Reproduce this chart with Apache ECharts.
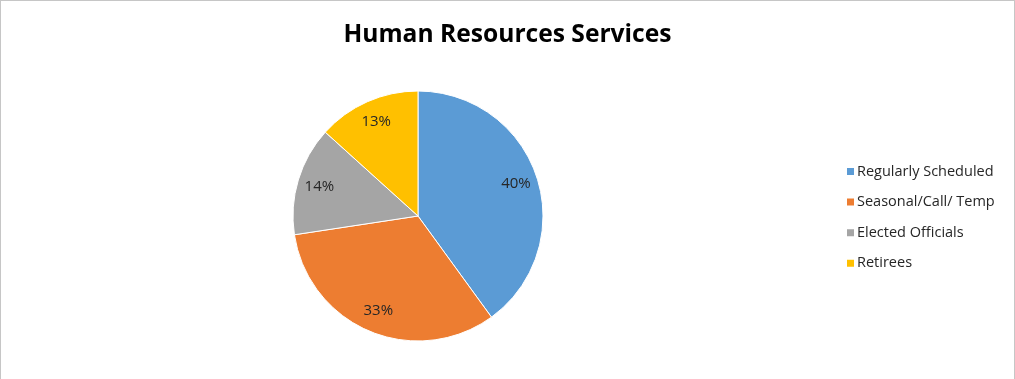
<!DOCTYPE html>
<html>
<head>
<meta charset="utf-8">
<script src="https://cdn.jsdelivr.net/npm/echarts@6/dist/echarts.min.js"></script>
<style>
  html, body { margin: 0; padding: 0; background: #fff; }
  #frame { position: absolute; left: 0; top: 0; width: 1015px; height: 400px;
           border: 1px solid #c6c6c6; box-sizing: border-box; }
  #chart { position: absolute; left: 0; top: 0; width: 1015px; height: 379px; }
</style>
</head>
<body>
<div id="frame"></div>
<div id="chart"></div>
<script>
// Staff categories and their shares of the workforce (%)
const categories = ['Regularly Scheduled', 'Seasonal/Call/ Temp', 'Elected Officials', 'Retirees'];
const shares = [40.0, 32.6, 14.1, 13.3];
const colors = ['#5B9BD5', '#ED7D31', '#A5A5A5', '#FFC000'];

const FONT = '"Open Sans", Lato, sans-serif';
const center = [418, 216];
const data = categories.map((name, i) => ({ name, value: shares[i] }));

const chart = echarts.init(document.getElementById('chart'), null, { renderer: 'canvas' });
chart.setOption({
  animation: false,
  color: colors,
  title: {
    text: 'Human Resources Services',
    left: 'center',
    top: 17,
    textStyle: { fontFamily: FONT, fontWeight: 'bold', fontSize: 24.6, color: '#000' }
  },
  legend: {
    data: categories,
    orient: 'vertical',
    left: 845,
    top: 163,
    padding: 0,
    icon: 'rect',
    itemWidth: 9,
    itemHeight: 9,
    itemGap: 13.6,
    textStyle: { fontFamily: FONT, fontSize: 14.5, color: '#262626', lineHeight: 17, padding: [0, 0, 0, -3] }
  },
  series: [
    {
      // coloured slices
      type: 'pie',
      center,
      radius: 125,
      startAngle: 90,
      clockwise: true,
      silent: true,
      label: { show: false },
      labelLine: { show: false },
      itemStyle: { borderColor: '#fff', borderWidth: 1 },
      data
    },
    {
      // transparent ring that carries the percentage labels near the rim
      type: 'pie',
      center,
      radius: [75, 125],
      startAngle: 90,
      clockwise: true,
      silent: true,
      legendHoverLink: false,
      itemStyle: { color: 'rgba(0,0,0,0)' },
      label: {
        show: true,
        position: 'inside',
        formatter: p => Math.round(p.percent) + '%',
        fontFamily: FONT,
        fontSize: 15,
        color: '#262626'
      },
      labelLine: { show: false },
      data
    }
  ]
});
</script>
</body>
</html>
